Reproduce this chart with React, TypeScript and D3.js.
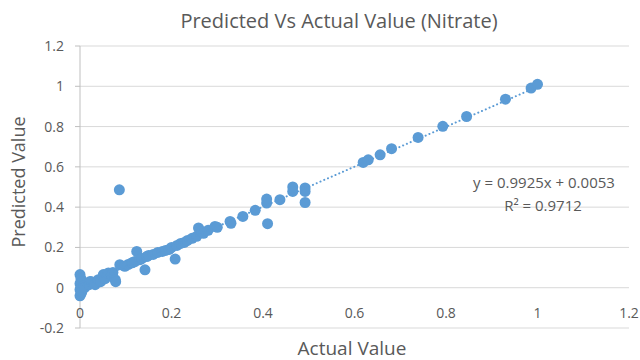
import React from "react";
import * as d3 from "d3";

const actualValues = [
  0.000, 0.002, 0.000, 0.003, 0.000, 0.002, 0.000, 0.005, 0.008, 0.004, 0.010,
  0.020, 0.022, 0.025, 0.033, 0.040, 0.045, 0.051, 0.055, 0.062, 0.069, 0.072, 0.077, 0.078,
  0.086, 0.087, 0.098, 0.105, 0.113, 0.115, 0.120, 0.124, 0.131, 0.135, 0.142, 0.146, 0.150,
  0.160, 0.170, 0.180, 0.187, 0.195, 0.200, 0.208, 0.212, 0.220, 0.228, 0.235, 0.245, 0.255,
  0.259, 0.266, 0.270, 0.280, 0.295, 0.300, 0.328, 0.330, 0.356, 0.383, 0.408, 0.408, 0.410,
  0.437, 0.465, 0.465, 0.492, 0.492, 0.492, 0.619, 0.630, 0.656, 0.681, 0.739, 0.793, 0.845,
  0.930, 0.986, 1.000,
];
const predictedValues = [
  0.065, 0.045, 0.020, 0.005, -0.010, -0.030, -0.040, 0.030, 0.010, -0.020, 0.000,
  0.015, 0.031, 0.030, 0.015, 0.040, 0.030, 0.065, 0.045, 0.073, 0.065, 0.075, 0.040, 0.030,
  0.486, 0.114, 0.106, 0.115, 0.123, 0.125, 0.130, 0.180, 0.139, 0.145, 0.089, 0.155, 0.160,
  0.165, 0.175, 0.180, 0.185, 0.190, 0.200, 0.142, 0.210, 0.220, 0.225, 0.235, 0.245, 0.255,
  0.297, 0.279, 0.270, 0.285, 0.304, 0.300, 0.329, 0.320, 0.354, 0.384, 0.420, 0.440, 0.318,
  0.437, 0.500, 0.478, 0.495, 0.478, 0.423, 0.622, 0.635, 0.660, 0.690, 0.746, 0.801, 0.850,
  0.936, 0.991, 1.010,
];

const xTicks = [0, 0.2, 0.4, 0.6, 0.8, 1, 1.2];
const yTicks = [-0.2, 0, 0.2, 0.4, 0.6, 0.8, 1, 1.2];

const slope = 0.9925;
const intercept = 0.0053;
const trendRange = [0, 1];

const equationText = "y = 0.9925x + 0.0053";
const rSquaredText = "R² = 0.9712";

const BLUE = "#5B9BD5";
const TEXT = "#595959";
const GRID = "#d9d9d9";
const FONT = "'Open Sans', sans-serif";

export default function App() {
  const width = 640;
  const height = 360;

  const x = d3.scaleLinear().domain([0, 1.2]).range([80, 629]);
  const y = d3.scaleLinear().domain([-0.2, 1.2]).range([328, 46]);

  const trend = d3.line<number>()
    .x((d) => x(d))
    .y((d) => y(slope * d + intercept));

  const fmt = (v: number) => (Math.round(v * 10) / 10).toString();

  return (
    <svg
      width={width}
      height={height}
      style={{ position: "absolute", left: 0, top: 0, background: "#fff" }}
      fontFamily={FONT}
    >
      <text x={339} y={28} textAnchor="middle" fontSize={20} fill={TEXT}>
        Predicted Vs Actual Value (Nitrate)
      </text>

      {/* gridlines */}
      {yTicks.map((t) => (
        <line key={"g" + t} x1={x(0)} x2={x(1.2)} y1={y(t)} y2={y(t)} stroke={GRID} strokeWidth={1} />
      ))}

      {/* vertical axis */}
      <line x1={x(0)} x2={x(0)} y1={y(1.2)} y2={y(-0.2)} stroke="#bfbfbf" />
      {yTicks.map((t) => (
        <line key={"t" + t} x1={x(0) - 5} x2={x(0)} y1={y(t)} y2={y(t)} stroke="#bfbfbf" />
      ))}

      {yTicks.map((t) => (
        <text key={"yl" + t} x={64} y={y(t) + 5} textAnchor="end" fontSize={14} fill={TEXT}>
          {fmt(t)}
        </text>
      ))}
      {xTicks.map((t) => (
        <text key={"xl" + t} x={x(t)} y={318} textAnchor="middle" fontSize={14} fill={TEXT}>
          {fmt(t)}
        </text>
      ))}

      <text
        transform={`translate(25,${182}) rotate(-90)`}
        textAnchor="middle"
        fontSize={18}
        fill={TEXT}
      >
        Predicted Value
      </text>
      <text x={352} y={355} textAnchor="middle" fontSize={19} fill={TEXT}>
        Actual Value
      </text>

      {/* points */}
      {actualValues.map((a, i) => (
        <circle key={"p" + i} cx={x(a)} cy={y(predictedValues[i])} r={5.5} fill={BLUE} />
      ))}

      {/* trendline */}
      <path
        d={trend(trendRange) || ""}
        fill="none"
        stroke={BLUE}
        strokeWidth={2}
        strokeDasharray="0.1 4"
        strokeLinecap="round"
      />

      <text x={544} y={188} textAnchor="middle" fontSize={15} fill={TEXT}>
        {equationText}
      </text>
      <text x={543} y={211} textAnchor="middle" fontSize={15} fill={TEXT}>
        {rSquaredText}
      </text>
    </svg>
  );
}
